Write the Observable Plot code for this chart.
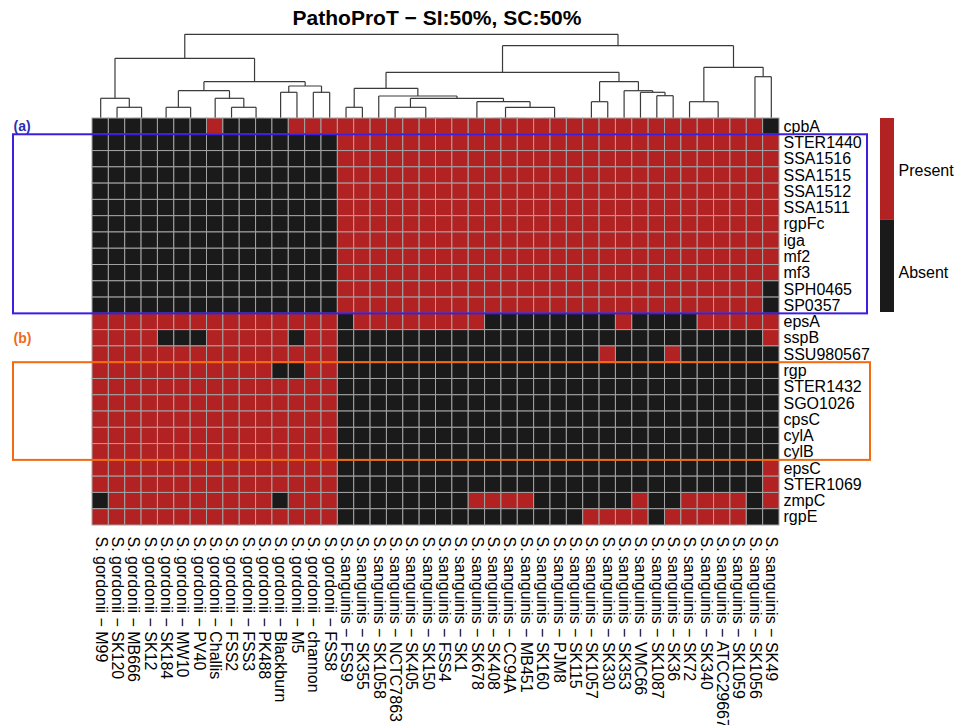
<!DOCTYPE html>
<html>
<head>
<meta charset="utf-8">
<script src="https://cdn.jsdelivr.net/npm/d3@7"></script>
<script src="https://cdn.jsdelivr.net/npm/@observablehq/plot@0.6"></script>
<style>
  body { margin: 0; background: #fff; }
  #wrap { position: relative; width: 954px; height: 725px; overflow: hidden; font-family: "Liberation Sans", Arial, sans-serif; }
  #wrap svg { display: block; overflow: visible; }
  #legend { position: absolute; left: 880px; top: 118px; }
</style>
</head>
<body>
<div id="wrap"><div id="dendro"></div><div id="heat"></div><div id="legend"></div></div>
<script>
// ---------------- data ----------------
const title = "PathoProT \u2212 SI:50%, SC:50%";

const strains = [
  "S. gordonii \u2212 M99", "S. gordonii \u2212 SK120", "S. gordonii \u2212 MB666", "S. gordonii \u2212 SK12",
  "S. gordonii \u2212 SK184", "S. gordonii \u2212 MW10", "S. gordonii \u2212 PV40", "S. gordonii \u2212 Challis",
  "S. gordonii \u2212 FSS2", "S. gordonii \u2212 FSS3", "S. gordonii \u2212 PK488", "S. gordonii \u2212 Blackburn",
  "S. gordonii \u2212 M5", "S. gordonii \u2212 channon", "S. gordonii \u2212 FSS8",
  "S. sanguinis \u2212 FSS9", "S. sanguinis \u2212 SK355", "S. sanguinis \u2212 SK1058", "S. sanguinis \u2212 NCTC7863",
  "S. sanguinis \u2212 SK405", "S. sanguinis \u2212 SK150", "S. sanguinis \u2212 FSS4", "S. sanguinis \u2212 SK1",
  "S. sanguinis \u2212 SK678", "S. sanguinis \u2212 SK408", "S. sanguinis \u2212 CC94A", "S. sanguinis \u2212 MB451",
  "S. sanguinis \u2212 SK160", "S. sanguinis \u2212 PJM8", "S. sanguinis \u2212 SK115", "S. sanguinis \u2212 SK1057",
  "S. sanguinis \u2212 SK330", "S. sanguinis \u2212 SK353", "S. sanguinis \u2212 VMC66", "S. sanguinis \u2212 SK1087",
  "S. sanguinis \u2212 SK36", "S. sanguinis \u2212 SK72", "S. sanguinis \u2212 SK340", "S. sanguinis \u2212 ATCC29667",
  "S. sanguinis \u2212 SK1059", "S. sanguinis \u2212 SK1056", "S. sanguinis \u2212 SK49"
];

const genes = ["cpbA","STER1440","SSA1516","SSA1515","SSA1512","SSA1511","rgpFc","iga","mf2","mf3",
  "SPH0465","SP0357","epsA","sspB","SSU980567","rgp","STER1432","SGO1026","cpsC","cylA","cylB",
  "epsC","STER1069","zmpC","rgpE"];

// presence (1) / absence (0): [15 S. gordonii columns, 27 S. sanguinis columns]
const presence = [
  ["000000010000111", "111111111111111111111111110"], // cpbA
  ["000000000000000", "111111111111111111111111111"], // STER1440
  ["000000000000000", "111111111111111111111111111"], // SSA1516
  ["000000000000000", "111111111111111111111111111"], // SSA1515
  ["000000000000000", "111111111111111111111111111"], // SSA1512
  ["000000000000000", "111111111111111111111111111"], // SSA1511
  ["000000000000000", "111111111111111111111111111"], // rgpFc
  ["000000000000000", "111111111111111111111111111"], // iga
  ["000000000000000", "111111111111111111111111111"], // mf2
  ["000000000000000", "111111111111111111111111111"], // mf3
  ["000000000000000", "111111111111111111111111110"], // SPH0465
  ["000000000000000", "111111111111111111111111110"], // SP0357
  ["111111111111111", "011111111000000001000011111"], // epsA
  ["111100011111011", "000000000000000000000000001"], // sspB
  ["111111111111111", "000000000000000010001000000"], // SSU980567
  ["111111111110011", "000000000000000000000000000"], // rgp
  ["111111111111111", "000000000000000000000000000"], // STER1432
  ["111111111111111", "000000000000000000000000000"], // SGO1026
  ["111111111111111", "000000000000000000000000000"], // cpsC
  ["111111111111111", "000000000000000000000000000"], // cylA
  ["111111111111111", "000000000000000000000000000"], // cylB
  ["111111111111111", "000000000000000000000000001"], // epsC
  ["111111111111111", "000000000000000000000000001"], // STER1069
  ["011111111110111", "000000001111000000100111101"], // zmpC
  ["111111111111111", "000000000000000111101111100"]  // rgpE
];

// column dendrogram: [merge height, left, right]; leaves are column indices
const dendrogram =
  [84.2,
    [60.2,
      [20.2, 0, [11.2, 1, [0, 2, 3]]],
      [36.8,
        [27.8, [11.2, 4, [0, 5, 6]], [20.2, 7, [11.2, 8, [0, 9, 10]]]],
        [32.5, [26.2, 11, 12], [26.2, 13, 14]]]],
    [72.8,
      [46.2,
        [30.2, [11.2, 15, 16],
          [22.5, 17,
            [20.2, [11.2, 18, [0, 19, [0, 20, [0, 21, 22]]]],
                   [16.8, 23, [11.2, [0, 24, [0, 25, 26]], [0, 27, [0, 28, 29]]]]]]],
        [36.8, [16.8, 30, 31], [27.8, 32, [26.2, 33, [22.8, 34, 35]]]]],
      [51.2, [16.8, 36, [0, 37, [0, 38, 39]]], [41.8, 40, 41]]]];

const legendLabels = ["Present", "Absent"];
const legendColors = ["#B22222", "#1A1A1A"];
const legendBreaks = [[0.475, 1], [0, 0.475]];
const legendTickPos = [0.73, 0.205];

// highlighted gene groups
const groups = [
  {label: "(a)", from: "STER1440", to: "SP0357", labelRow: "cpbA", color: "#3B1EE0", textColor: "#2a2fb0"},
  {label: "(b)", from: "rgp", to: "cylB", labelRow: "sspB", color: "#F26A12", textColor: "#f06a1a"}
];
const groupExtendRight = [88, 91];

// ---------------- build ----------------
const font = "Liberation Sans, Arial, Helvetica, sans-serif";
const cells = [];
presence.forEach((parts, i) => {
  const row = parts.join("");
  if (row.length !== strains.length) throw new Error("row " + genes[i] + " has length " + row.length);
  for (let j = 0; j < row.length; ++j)
    cells.push({i, j, gene: genes[i], strain: strains[j], status: row[j] === "1" ? "Present" : "Absent"});
});

const segs = [];
function layout(node) {
  if (typeof node === "number") return {x: node + 0.5, h: 0};
  const [h, a, b] = node;
  const L = layout(a), R = layout(b);
  segs.push({x1: L.x, y1: L.h, x2: L.x, y2: h});
  segs.push({x1: R.x, y1: R.h, x2: R.x, y2: h});
  segs.push({x1: L.x, y1: h, x2: R.x, y2: h});
  return {x: (L.x + R.x) / 2, h};
}
layout(dendrogram);

const mL = 92, mR = 175;

const dendroPlot = Plot.plot({
  width: 954, height: 118, marginLeft: mL, marginRight: mR, marginTop: 34, marginBottom: 0,
  style: {fontFamily: font, background: "transparent"},
  x: {domain: [0, strains.length], axis: null},
  y: {domain: [0, 84], axis: null},
  marks: [
    Plot.link(segs, {x1: "x1", y1: "y1", x2: "x2", y2: "y2", stroke: "#3a3a3a", strokeWidth: 1.2}),
    Plot.text([title], {text: d => d, frameAnchor: "top", lineAnchor: "middle", dy: -16, dx: 1, fontSize: 21, fontWeight: "bold", fill: "#000"})
  ]
});
document.getElementById("dendro").appendChild(dendroPlot);

const heatPlot = Plot.plot({
  width: 954, height: 607, marginLeft: mL, marginRight: mR, marginTop: 0, marginBottom: 200,
  style: {fontFamily: font, fontSize: "16px", background: "transparent", color: "#000"},
  x: {domain: [0, strains.length], axis: "bottom", ticks: d3.range(strains.length).map(j => j + 0.5),
      tickFormat: d => strains[Math.floor(d)], tickRotate: 90, tickSize: 0, tickPadding: 11, label: null},
  y: {domain: [0, genes.length], reverse: true, axis: "right", ticks: d3.range(genes.length).map(i => i + 0.5),
      tickFormat: d => genes[Math.floor(d)], tickSize: 0, tickPadding: 4, label: null},
  color: {domain: legendLabels, range: legendColors},
  marks: [
    Plot.rect(cells, {x1: d => d.j, x2: d => d.j + 1, y1: d => d.i, y2: d => d.i + 1, fill: "status", stroke: "#a3a3a3", strokeWidth: 1}),
    ...groups.map((g, k) => Plot.rect([g], {
      x1: 0, x2: strains.length,
      y1: d => genes.indexOf(d.from), y2: d => genes.indexOf(d.to) + 1,
      fill: "none", stroke: g.color, strokeWidth: 2, insetLeft: -79, insetRight: -groupExtendRight[k]
    })),
    Plot.text(groups, {x: 0, y: d => genes.indexOf(d.labelRow) + 0.5, text: "label", dx: -79, textAnchor: "start",
      fill: d => d.textColor, fontSize: 14, fontWeight: "bold"})
  ]
});
document.getElementById("heat").appendChild(heatPlot);

const legendPlot = Plot.plot({
  width: 74, height: 194, marginLeft: 0, marginRight: 60, marginTop: 0, marginBottom: 0,
  style: {fontFamily: font, fontSize: "16px", background: "transparent", color: "#000"},
  x: {domain: [0, 1], axis: null},
  y: {domain: [0, 1], axis: "right", ticks: legendTickPos, tickFormat: d => legendLabels[legendTickPos.indexOf(d)],
      tickSize: 0, tickPadding: 4, label: null},
  color: {domain: legendLabels, range: legendColors},
  marks: [
    Plot.rect(legendLabels, {x1: 0, x2: 1, y1: (d, i) => legendBreaks[i][0], y2: (d, i) => legendBreaks[i][1], fill: d => d})
  ]
});
document.getElementById("legend").appendChild(legendPlot);
</script>
</body>
</html>
